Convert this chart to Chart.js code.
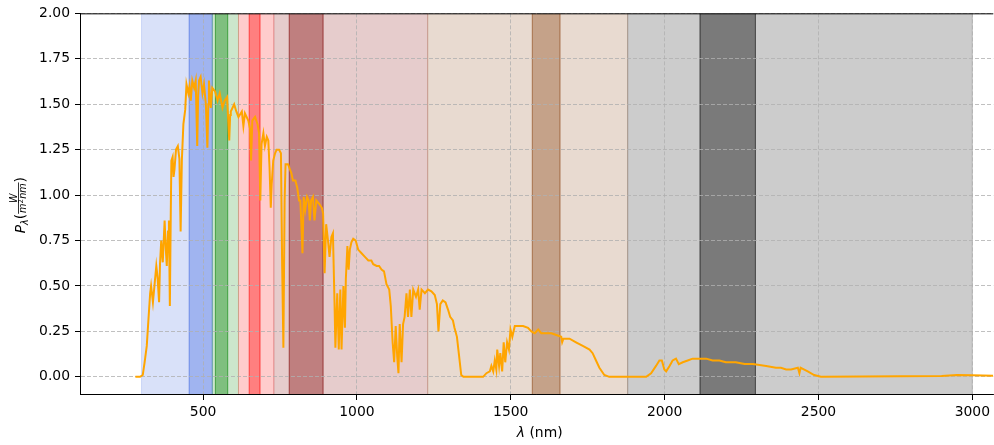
<!DOCTYPE html>
<html>
<head>
<meta charset="utf-8">
<script src="https://cdn.jsdelivr.net/npm/chart.js@4.4.1/dist/chart.umd.min.js"></script>
<style>
  html, body { margin: 0; padding: 0; background: #fff; }
  canvas { display: block; }
</style>
</head>
<body>
<canvas id="spectrum" width="994" height="445"></canvas>
<script>
// Espectro (nm, W/m²/nm)
const WAVELENGTH = [
  280, 295, 304, 310, 317, 323, 328, 331, 337, 343, 348, 352, 357, 360, 364, 369, 375, 379, 382, 386,
  389, 392, 395, 397, 401, 404, 407, 412, 418, 423, 427, 431, 436, 442, 446, 452, 456, 460, 465, 471,
  476, 481, 484, 487, 492, 498, 503, 509, 514, 517, 519, 525, 530, 539, 547, 554, 563, 570, 578, 585,
  588, 590, 601, 608, 615, 626, 631, 636, 647, 653, 656, 660, 669, 677, 682, 686, 690, 696, 701, 707,
  712, 716, 720, 723, 728, 734, 739, 747, 753, 757, 761, 765, 768, 776, 787, 792, 800, 806, 812, 816,
  819, 823, 827, 832, 838, 843, 847, 851, 857, 862, 868, 878, 886, 890, 895, 900, 906, 911, 917, 922,
  927, 930, 936, 941, 946, 950, 956, 961, 964, 969, 973, 977, 982, 988, 996, 1004, 1015, 1026, 1037, 1047,
  1053, 1064, 1072, 1080, 1088, 1096, 1105, 1110, 1116, 1121, 1126, 1131, 1135, 1139, 1145, 1150, 1155, 1161, 1166, 1172,
  1177, 1183, 1192, 1199, 1204, 1210, 1221, 1231, 1242, 1253, 1260, 1265, 1271, 1279, 1288, 1296, 1303, 1312, 1317, 1325,
  1331, 1339, 1346, 1410, 1421, 1432, 1437, 1443, 1448, 1453, 1456, 1462, 1466, 1472, 1477, 1482, 1488, 1494, 1499, 1505,
  1513, 1523, 1540, 1556, 1567, 1578, 1589, 1599, 1616, 1632, 1648, 1664, 1667, 1671, 1691, 1712, 1734, 1756, 1766, 1777,
  1788, 1804, 1820, 1940, 1956, 1972, 1983, 1991, 1999, 2005, 2016, 2026, 2037, 2046, 2059, 2075, 2091, 2113, 2135, 2156,
  2178, 2199, 2231, 2260, 2287, 2330, 2362, 2378, 2395, 2411, 2433, 2438, 2442, 2454, 2465, 2486, 2508, 2900, 2950, 3000,
  3068
];
const IRRADIANCE = [
  0, 0, 0.01, 0.08, 0.17, 0.33, 0.46, 0.50, 0.41, 0.52, 0.61, 0.55, 0.41, 0.62, 0.75, 0.63, 0.86, 0.70, 0.61, 0.80,
  0.86, 0.39, 0.90, 1.19, 1.21, 1.10, 1.14, 1.25, 1.27, 1.20, 0.80, 1.19, 1.39, 1.47, 1.61, 1.56, 1.60, 1.52, 1.63, 1.59,
  1.63, 1.27, 1.55, 1.63, 1.65, 1.56, 1.61, 1.50, 1.26, 1.50, 1.63, 1.48, 1.59, 1.57, 1.52, 1.56, 1.48, 1.52, 1.54, 1.30,
  1.44, 1.46, 1.50, 1.46, 1.43, 1.46, 1.38, 1.45, 1.41, 1.36, 1.19, 1.41, 1.43, 1.39, 1.34, 0.97, 1.28, 1.34, 1.27, 1.32,
  1.30, 1.15, 0.93, 1.06, 1.19, 1.23, 1.25, 1.25, 1.23, 0.61, 0.16, 0.97, 1.17, 1.17, 1.12, 1.08, 1.08, 1.04, 0.97, 0.97,
  0.86, 0.68, 0.99, 0.92, 0.99, 0.97, 0.86, 0.97, 0.99, 0.86, 0.97, 0.95, 0.93, 0.90, 0.57, 0.84, 0.75, 0.66, 0.77, 0.79,
  0.42, 0.16, 0.46, 0.15, 0.48, 0.15, 0.50, 0.27, 0.54, 0.72, 0.59, 0.70, 0.74, 0.76, 0.75, 0.70, 0.68, 0.66, 0.64, 0.64,
  0.62, 0.61, 0.61, 0.59, 0.58, 0.51, 0.48, 0.39, 0.19, 0.08, 0.28, 0.11, 0.02, 0.29, 0.08, 0.29, 0.33, 0.46, 0.33, 0.48,
  0.33, 0.48, 0.44, 0.48, 0.37, 0.48, 0.46, 0.48, 0.47, 0.45, 0.40, 0.25, 0.40, 0.42, 0.41, 0.37, 0.33, 0.31, 0.27, 0.22,
  0.13, 0.01, 0, 0, 0.02, 0.03, 0.06, 0.03, 0.09, 0.04, 0.15, 0.06, 0.13, 0.03, 0.19, 0.08, 0.19, 0.15, 0.26, 0.22,
  0.28, 0.28, 0.28, 0.27, 0.25, 0.24, 0.26, 0.24, 0.24, 0.24, 0.23, 0.22, 0.19, 0.21, 0.21, 0.19, 0.17, 0.15, 0.13, 0.09,
  0.05, 0.01, 0, 0, 0.02, 0.06, 0.09, 0.09, 0.04, 0.03, 0.06, 0.09, 0.10, 0.07, 0.08, 0.09, 0.10, 0.10, 0.10, 0.09,
  0.09, 0.08, 0.08, 0.07, 0.07, 0.06, 0.05, 0.05, 0.04, 0.04, 0.05, 0.02, 0.05, 0.04, 0.03, 0.01, 0, 0.005, 0.01, 0.008,
  0.006
];

// Faixas espectrais (nm)
const BAND_FROM = [300, 455, 530, 540, 580, 615, 650, 685, 730, 780, 890, 1230, 1570, 1660, 1880, 2115, 2295];
const BAND_TO   = [455, 530, 540, 580, 615, 650, 685, 730, 780, 890, 1230, 1570, 1660, 1880, 2115, 2295, 3000];
const BAND_COLOR = [
  'rgba(65,105,225,0.2)', 'rgba(65,105,225,0.5)',
  'rgba(0,128,0,0.2)', 'rgba(0,128,0,0.5)', 'rgba(0,128,0,0.2)',
  'rgba(255,0,0,0.2)', 'rgba(255,0,0,0.5)', 'rgba(255,0,0,0.2)',
  'rgba(128,0,0,0.2)', 'rgba(128,0,0,0.5)', 'rgba(128,0,0,0.2)',
  'rgba(139,69,19,0.2)', 'rgba(139,69,19,0.5)', 'rgba(139,69,19,0.2)',
  'rgba(0,0,0,0.2)', 'rgba(0,0,0,0.52)', 'rgba(0,0,0,0.2)'
];

const X_TICKS = [500, 1000, 1500, 2000, 2500, 3000];
const Y_TICKS = [0, 0.25, 0.5, 0.75, 1.0, 1.25, 1.5, 1.75, 2.0];
const X_MIN = 100, X_MAX = 3068, X_AXIS_END = 3088;   // eixo original passa da borda
const Y_MIN = -0.1, Y_MAX = 2.0;

const FONT = '"DejaVu Sans", sans-serif';
const FS = 13.9;

function drawYLabel(ctx, cx, cy){
  const I = s => `italic ${s}px ${FONT}`;
  const R = s => `${s}px ${FONT}`;
  ctx.save();
  ctx.translate(cx, cy);
  ctx.rotate(-Math.PI/2);
  ctx.fillStyle = '#000';
  ctx.textBaseline = 'alphabetic';
  ctx.font = I(FS);  const wP = ctx.measureText('P').width;
  ctx.font = I(9.7); const wL = ctx.measureText('λ').width;
  const wW = ctx.measureText('W').width, wm = ctx.measureText('m').width, wnm = ctx.measureText('nm').width;
  ctx.font = R(FS);  const wPar = ctx.measureText('(').width;
  ctx.font = R(6.8); const w2 = ctx.measureText('2').width;
  const wDen = wm + w2 + 0.5 + wnm;
  const wFrac = Math.max(wW, wDen) + 1.5;
  const total = wP + wL + 2*wPar + wFrac;
  const base = 5, axis = base - 6.5;
  let px = -total/2;
  ctx.font = I(FS);  ctx.fillText('P', px, base); px += wP;
  ctx.font = I(9.7); ctx.fillText('λ', px, base + 3); px += wL;
  ctx.font = R(FS);  ctx.fillText('(', px, base); px += wPar;
  ctx.fillRect(px, axis - 0.4, wFrac, 0.8);
  ctx.font = I(9.7); ctx.fillText('W', px + (wFrac - wW)/2, axis - 1.8);
  let dx = px + (wFrac - wDen)/2;
  ctx.fillText('m', dx, axis + 7.5); dx += wm;
  ctx.font = R(6.8); ctx.fillText('2', dx, axis + 4.5); dx += w2 + 0.5;
  ctx.font = I(9.7); ctx.fillText('nm', dx, axis + 7.5);
  px += wFrac;
  ctx.font = R(FS);  ctx.fillText(')', px, base);
  ctx.restore();
}

function drawXLabel(ctx, cx, baseY){
  ctx.save();
  ctx.fillStyle = '#000';
  ctx.textBaseline = 'alphabetic';
  ctx.font = `italic ${FS}px ${FONT}`; const wl = ctx.measureText('λ').width;
  ctx.font = `${FS}px ${FONT}`;        const wr = ctx.measureText(' (nm)').width;
  let x0 = cx - (wl + wr)/2;
  ctx.font = `italic ${FS}px ${FONT}`; ctx.fillText('λ', x0, baseY);
  ctx.font = `${FS}px ${FONT}`;        ctx.fillText(' (nm)', x0 + wl, baseY);
  ctx.restore();
}

const bandsPlugin = {
  id: 'bands',
  beforeDraw(chart){
    const { ctx, chartArea: a, scales: { x } } = chart;
    ctx.save();
    ctx.beginPath();
    ctx.rect(a.left, a.top, a.right - a.left, a.bottom - a.top);
    ctx.clip();
    BAND_FROM.forEach((from, i) => {
      const x0 = x.getPixelForValue(from), x1 = x.getPixelForValue(BAND_TO[i]);
      ctx.fillStyle = BAND_COLOR[i];
      ctx.fillRect(x0, a.top, x1 - x0, a.bottom - a.top);
      ctx.strokeStyle = BAND_COLOR[i];
      ctx.lineWidth = 1;
      ctx.beginPath();
      ctx.moveTo(x0, a.top); ctx.lineTo(x0, a.bottom);
      ctx.moveTo(x1, a.top); ctx.lineTo(x1, a.bottom);
      ctx.stroke();
    });
    ctx.restore();
  },
  afterDraw(chart){
    const { ctx, chartArea: a, scales: { x } } = chart;
    // spine de cima
    ctx.save();
    ctx.strokeStyle = '#000';
    ctx.lineWidth = 1;
    ctx.beginPath();
    ctx.moveTo(a.left, a.top + 0.5); ctx.lineTo(a.right, a.top + 0.5);
    ctx.stroke();
    ctx.restore();
    const cx = (x.getPixelForValue(X_MIN) + x.getPixelForValue(X_AXIS_END)) / 2;
    drawXLabel(ctx, cx, 437);
    drawYLabel(ctx, 20, (a.top + a.bottom) / 2 + 1);
  }
};

const grid = {
  color: '#b0b0b0', lineWidth: 0.8,
  tickColor: '#000', tickLength: 5, tickWidth: 1, tickBorderDash: []
};

new Chart(document.getElementById('spectrum'), {
  type: 'line',
  data: {
    datasets: [{
      data: WAVELENGTH.map((w, i) => ({ x: w, y: IRRADIANCE[i] })),
      borderColor: '#FFA500',
      borderWidth: 2,
      pointRadius: 0,
      tension: 0,
      fill: false
    }]
  },
  options: {
    responsive: false,
    animation: false,
    devicePixelRatio: 1,
    layout: { padding: { top: 13, right: 0, left: 0, bottom: 0 } },
    plugins: { legend: { display: false }, tooltip: { enabled: false } },
    scales: {
      x: {
        type: 'linear', min: X_MIN, max: X_MAX,
        afterBuildTicks: s => { s.ticks = X_TICKS.map(v => ({ value: v })); },
        afterFit: s => { s.height = 50; },
        grid,
        border: { color: '#000', width: 1, dash: [4, 2] },
        ticks: { color: '#000', padding: 4, font: { family: FONT, size: FS }, callback: v => String(v), maxRotation: 0 }
      },
      y: {
        type: 'linear', min: Y_MIN, max: Y_MAX,
        afterBuildTicks: s => { s.ticks = Y_TICKS.map(v => ({ value: v })); },
        afterFit: s => { s.width = 80; },
        grid,
        border: { color: '#000', width: 1, dash: [4, 2] },
        ticks: { color: '#000', padding: 5, font: { family: FONT, size: FS }, callback: v => Number(v).toFixed(2) }
      }
    }
  },
  plugins: [bandsPlugin]
});
</script>
</body>
</html>
